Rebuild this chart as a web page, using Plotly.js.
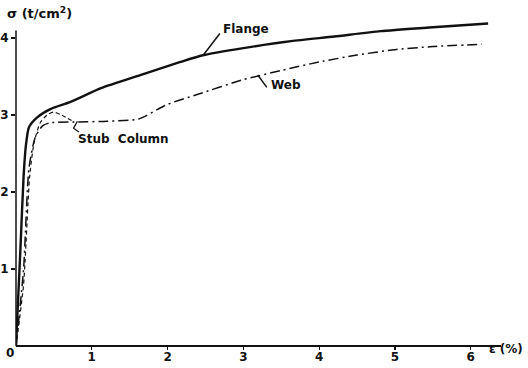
<!DOCTYPE html>
<html><head><meta charset="utf-8">
<script src="https://cdn.plot.ly/plotly-3.0.1.min.js"></script>
<style>html,body{margin:0;padding:0;background:#fff}#c{width:528px;height:368px}</style>
</head><body><div id="c"></div>
<script>
const flangeX = [0, 0.06, 0.1, 0.13, 0.17, 0.28, 0.46, 0.72, 1.12, 1.64, 2.17, 2.48, 3.0, 3.63, 4.2, 4.81, 5.5, 6.23];
const flangeY = [0, 1.3, 2.2, 2.6, 2.84, 2.97, 3.08, 3.17, 3.35, 3.52, 3.69, 3.78, 3.87, 3.96, 4.02, 4.09, 4.14, 4.19];
const webX = [0, 0.1, 0.17, 0.25, 0.35, 0.45, 0.8, 1.2, 1.62, 2.0, 2.4, 3.0, 3.5, 4.0, 4.5, 5.0, 5.5, 6.15];
const webY = [0, 1.0, 2.3, 2.7, 2.86, 2.9, 2.91, 2.92, 2.95, 3.14, 3.27, 3.46, 3.58, 3.69, 3.78, 3.85, 3.89, 3.92];
const stubX = [0, 0.1, 0.18, 0.24, 0.32, 0.42, 0.5, 0.6, 0.75];
const stubY = [0, 0.8, 2.2, 2.65, 2.9, 3.01, 3.04, 3.0, 2.92];
const xTicks = [1, 2, 3, 4, 5, 6];
const yTicks = [1, 2, 3, 4];

const F = {family: 'DejaVu Sans', size: 12, color: '#111', weight: 'bold'};
const TF = {family: 'DejaVu Sans', size: 12, color: '#111', weight: 'bold'};
const traces = [
  {x: flangeX, y: flangeY, mode: 'lines', line: {color: '#111', width: 2.4, shape: 'spline', smoothing: 0.6}},
  {x: webX, y: webY, mode: 'lines', line: {color: '#111', width: 1.5, dash: '10px,4px,2px,4px', shape: 'spline', smoothing: 0.6}},
  {x: stubX, y: stubY, mode: 'lines', line: {color: '#111', width: 1.2, dash: '4px,3px', shape: 'spline', smoothing: 0.6}}
];
const layout = {
  width: 528, height: 368, showlegend: false,
  paper_bgcolor: '#fff', plot_bgcolor: '#fff',
  margin: {l: 16, r: 27, t: 15, b: 22},
  font: F,
  xaxis: {range: [0, 6.4], tickvals: xTicks, ticks: 'outside', ticklen: 3, tickwidth: 1.2, tickcolor: '#111',
          ticklabelstandoff: -3,
          showgrid: false, zeroline: false, showline: false, tickfont: TF},
  yaxis: {range: [0, 4.3], tickvals: yTicks, ticks: 'outside', ticklen: 4, tickwidth: 1.2, tickcolor: '#111',
          showgrid: false, zeroline: false, showline: false, tickfont: TF},
  shapes: [
    {type: 'line', xref: 'paper', yref: 'paper', x0: 0, y0: 0, x1: 1, y1: 0, line: {color: '#111', width: 2}},
    {type: 'line', xref: 'paper', yref: 'paper', x0: 0, y0: 0, x1: 0, y1: 4.1 / 4.3, line: {color: '#111', width: 1.5}},
    {type: 'line', xref: 'x', yref: 'y', x0: 2.48, y0: 3.79, x1: 2.69, y1: 4.06, line: {color: '#111', width: 1.5}},
    {type: 'line', xref: 'x', yref: 'y', x0: 3.19, y0: 3.52, x1: 3.31, y1: 3.36, line: {color: '#111', width: 1.5}},
    {type: 'path', xref: 'x', yref: 'y', path: 'M 0.81 2.92 L 0.76 2.83 L 0.83 2.78', line: {color: '#111', width: 1.3}}
  ],
  annotations: [
    {text: 'Flange', x: 2.71, y: 4.12, xref: 'x', yref: 'y', xanchor: 'left', yanchor: 'middle', showarrow: false, font: F},
    {text: 'Web', x: 3.34, y: 3.39, xref: 'x', yref: 'y', xanchor: 'left', yanchor: 'middle', showarrow: false, font: F},
    {text: 'Stub  Column', x: 0.79, y: 2.69, xref: 'x', yref: 'y', xanchor: 'left', yanchor: 'middle', showarrow: false, font: F},
    {text: 'σ (t/cm<sup>2</sup>)', x: -0.0227, y: 1.006, xref: 'paper', yref: 'paper', xanchor: 'left', yanchor: 'middle', showarrow: false, font: {family: 'DejaVu Sans', size: 13, color: '#111', weight: 'bold'}},
    {text: 'ε (%)', x: 0.971, y: -0.009, xref: 'paper', yref: 'paper', xanchor: 'left', yanchor: 'middle', showarrow: false, font: F},
    {text: '0', x: -0.0124, y: -0.021, xref: 'paper', yref: 'paper', xanchor: 'center', yanchor: 'middle', showarrow: false, font: F}
  ]
};
Plotly.newPlot('c', traces, layout, {staticPlot: true});
</script></body></html>
